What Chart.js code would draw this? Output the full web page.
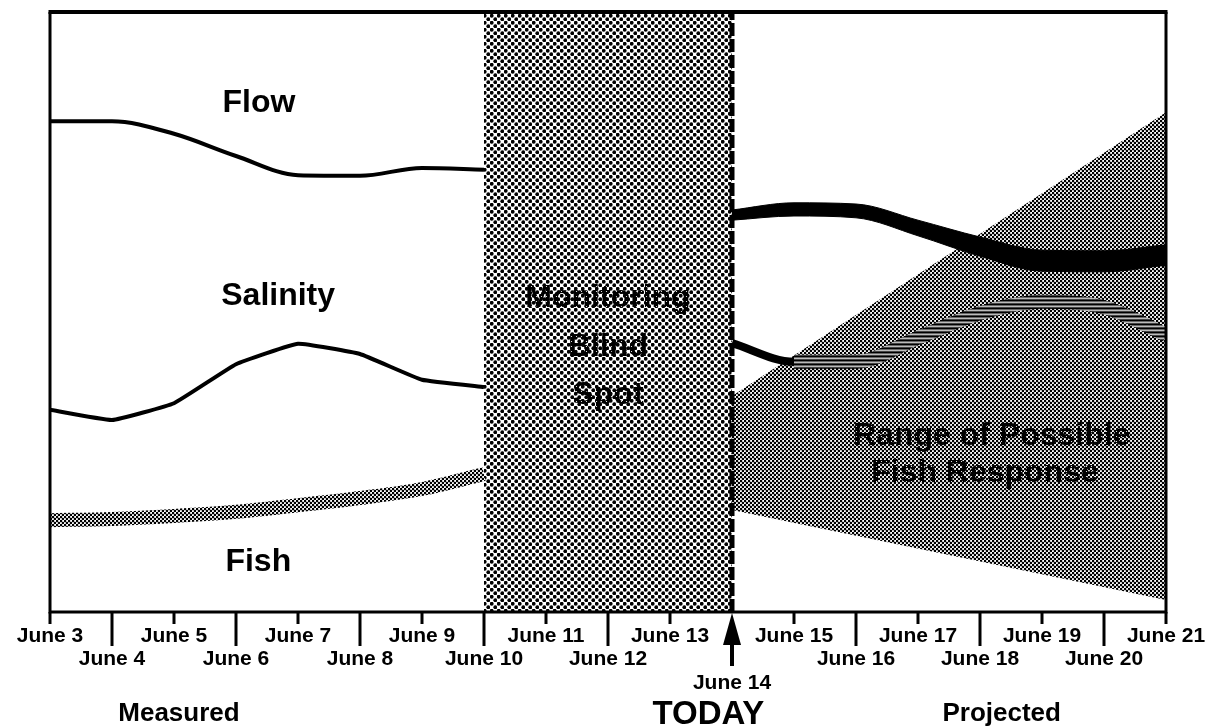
<!DOCTYPE html>
<html>
<head>
<meta charset="utf-8">
<title>Monitoring blind spot</title>
<script src="https://cdn.jsdelivr.net/npm/chart.js@4/dist/chart.umd.min.js"></script>
<style>
  html, body { margin: 0; padding: 0; background: #fff; }
  #wrap { width: 1211px; height: 726px; }
</style>
</head>
<body>
<div id="wrap"><canvas id="chart" width="1211" height="726"></canvas></div>
<script>
// x positions are day indexes: 0 = June 3 ... 18 = June 21
const dates = ['June 3', 'June 4', 'June 5', 'June 6', 'June 7', 'June 8', 'June 9', 'June 10',
  'June 11', 'June 12', 'June 13', 'June 14', 'June 15', 'June 16', 'June 17', 'June 18',
  'June 19', 'June 20', 'June 21'];
const todayIndex = 11;

// measured, June 3 .. June 10 (relative units 0-100)
const flowMeasured = [81.8, 81.8, 79.7, 76.0, 72.8, 72.7, 74.0, 73.7];
const salinityMeasured = [33.7, 32.0, 34.8, 41.3, 44.7, 43.0, 38.7, 37.5];
const fishMeasured = [15.3, 15.5, 16.0, 16.7, 17.8, 19.0, 20.5, 23.0];

// blind spot, June 10 .. June 14
const blindSpotDays = [7, 11];

// projected, June 14 .. June 21
const flowProjHigh = [67.0, 68.2, 68.0, 65.3, 62.5, 60.3, 60.2, 61.2];
const flowProjLow = [65.3, 66.0, 65.7, 62.7, 59.3, 56.8, 56.7, 57.8];
const salinityProj = [44.8, 41.7, 41.7, 45.7, 49.8, 51.7, 50.8, 46.2];

// range of possible fish response, June 14 and June 21
const rangeDays = [11, 18];
const rangeHigh = [36.0, 83.3];
const rangeLow = [17.0, 2.0];

const FONT = '"Liberation Sans", Arial, Helvetica, sans-serif';

function toPoints(values, startDay) {
  return values.map((v, i) => ({ x: startDay + i, y: v }));
}

function dotPattern(size, dots, r, bg, fg) {
  const c = document.createElement('canvas');
  c.width = size;
  c.height = size;
  const g = c.getContext('2d');
  g.fillStyle = bg;
  g.fillRect(0, 0, size, size);
  g.fillStyle = fg;
  dots.forEach(([x, y]) => {
    g.beginPath();
    g.arc(x, y, r, 0, Math.PI * 2);
    g.fill();
  });
  return g.createPattern(c, 'repeat');
}

function stripePattern(rows) {
  const c = document.createElement('canvas');
  c.width = 4;
  c.height = rows.length;
  const g = c.getContext('2d');
  rows.forEach((col, i) => {
    g.fillStyle = col;
    g.fillRect(0, i, 4, 1);
  });
  return g.createPattern(c, 'repeat');
}

const coarseDots = dotPattern(7, [[1.75, 1.75], [5.25, 5.25]], 1.9, '#fff', '#000');
const fineDots = dotPattern(4, [[1, 1], [3, 3]], 1.3, '#fff', '#000');
const textDots = dotPattern(5, [[1.5, 1.5]], 0.6, '#000', '#fff');
const bandStripes = stripePattern(['#000', '#666', '#bbb', '#444']);

// text with its cap centred on y
function capText(ctx, text, x, y, size, fill) {
  ctx.font = 'bold ' + size + 'px ' + FONT;
  ctx.fillStyle = fill;
  ctx.textAlign = 'center';
  ctx.textBaseline = 'alphabetic';
  ctx.fillText(text, x, y + size * 0.358);
}

const annotations = {
  id: 'annotations',
  afterDatasetsDraw(chart) {
    const { ctx, chartArea: a, scales: { x, y } } = chart;
    ctx.save();
    // frame
    ctx.strokeStyle = '#000';
    ctx.lineWidth = 4;
    ctx.beginPath();
    ctx.moveTo(a.left - 1.5, a.top);
    ctx.lineTo(a.right + 1.5, a.top);
    ctx.stroke();
    ctx.lineWidth = 3;
    ctx.beginPath();
    ctx.moveTo(a.left, a.top);
    ctx.lineTo(a.left, a.bottom);
    ctx.moveTo(a.right, a.top);
    ctx.lineTo(a.right, a.bottom);
    ctx.moveTo(a.left - 1.5, a.bottom);
    ctx.lineTo(a.right + 1.5, a.bottom);
    ctx.stroke();

    // series names
    capText(ctx, 'Flow', x.getPixelForValue(3.37), y.getPixelForValue(85.2), 32, '#000');
    capText(ctx, 'Salinity', x.getPixelForValue(3.68), y.getPixelForValue(53.0), 32, '#000');
    capText(ctx, 'Fish', x.getPixelForValue(3.36), y.getPixelForValue(8.7), 32, '#000');
    const mid = x.getPixelForValue((blindSpotDays[0] + blindSpotDays[1]) / 2);
    capText(ctx, 'Monitoring', mid, y.getPixelForValue(52.7), 32, textDots);
    capText(ctx, 'Blind', mid, y.getPixelForValue(44.5), 32, textDots);
    capText(ctx, 'Spot', mid, y.getPixelForValue(36.5), 32, textDots);
    capText(ctx, 'Range of Possible', x.getPixelForValue(15.19), y.getPixelForValue(29.7), 32, textDots);
    capText(ctx, 'Fish Response', x.getPixelForValue(15.08), y.getPixelForValue(23.5), 32, textDots);
    ctx.restore();
  },
  afterDraw(chart) {
    const { ctx, chartArea: a, scales: { x } } = chart;
    ctx.save();
    ctx.strokeStyle = '#000';
    ctx.fillStyle = '#000';
    ctx.lineWidth = 3;
    // tick marks: short under the first label row, long ones reach the second row
    dates.forEach((d, i) => {
      if (i === todayIndex) return;
      const px = x.getPixelForValue(i);
      ctx.beginPath();
      ctx.moveTo(px, a.bottom);
      ctx.lineTo(px, a.bottom + (i % 2 === 0 ? 12 : 34));
      ctx.stroke();
    });
    // TODAY arrow
    const tx = x.getPixelForValue(todayIndex);
    ctx.beginPath();
    ctx.moveTo(tx, a.bottom + 1);
    ctx.lineTo(tx + 9, a.bottom + 33);
    ctx.lineTo(tx - 9, a.bottom + 33);
    ctx.closePath();
    ctx.fill();
    ctx.fillRect(tx - 2, a.bottom + 30, 4, 24);

    capText(ctx, 'Measured', x.getPixelForValue(2.08), a.bottom + 100, 26, '#000');
    capText(ctx, 'TODAY', x.getPixelForValue(10.62), a.bottom + 100, 33, '#000');
    capText(ctx, 'Projected', x.getPixelForValue(15.35), a.bottom + 100, 26, '#000');
    ctx.restore();
  }
};

new Chart(document.getElementById('chart'), {
  type: 'line',
  data: {
    datasets: [
      {
        label: 'Monitoring Blind Spot',
        data: blindSpotDays.map(d => ({ x: d, y: 100 })),
        borderWidth: 0,
        backgroundColor: coarseDots,
        fill: 'start',
        order: 10
      },
      {
        label: 'Range high',
        data: rangeDays.map((d, i) => ({ x: d, y: rangeHigh[i] })),
        borderWidth: 0,
        backgroundColor: fineDots,
        fill: '+1',
        order: 9
      },
      {
        label: 'Range low',
        data: rangeDays.map((d, i) => ({ x: d, y: rangeLow[i] })),
        borderWidth: 0,
        fill: false,
        order: 9
      },
      {
        label: 'Flow projected high',
        data: toPoints(flowProjHigh, todayIndex),
        borderColor: '#000',
        borderWidth: 1,
        backgroundColor: '#000',
        cubicInterpolationMode: 'monotone',
        fill: '+1',
        order: 3
      },
      {
        label: 'Flow projected low',
        data: toPoints(flowProjLow, todayIndex),
        borderColor: '#000',
        borderWidth: 1,
        cubicInterpolationMode: 'monotone',
        fill: false,
        order: 3
      },
      {
        label: 'Salinity projected',
        data: toPoints(salinityProj, todayIndex),
        borderColor: bandStripes,
        borderWidth: 14,
        cubicInterpolationMode: 'monotone',
        segment: {
          borderColor: c => (c.p0DataIndex === 0 ? '#000' : bandStripes),
          borderWidth: c => (c.p0DataIndex === 0 ? 8 : 14)
        },
        fill: false,
        order: 2
      },
      {
        label: 'Flow',
        data: toPoints(flowMeasured, 0),
        borderColor: '#000',
        borderWidth: 4,
        cubicInterpolationMode: 'monotone',
        fill: false,
        order: 1
      },
      {
        label: 'Salinity',
        data: toPoints(salinityMeasured, 0),
        borderColor: '#000',
        borderWidth: 4,
        tension: 0.1,
        fill: false,
        order: 1
      },
      {
        label: 'Fish',
        data: toPoints(fishMeasured, 0),
        borderColor: fineDots,
        borderWidth: 14,
        cubicInterpolationMode: 'monotone',
        fill: false,
        order: 1
      },
      {
        label: 'Today',
        data: [{ x: todayIndex, y: 0 }, { x: todayIndex, y: 100 }],
        borderColor: '#000',
        borderWidth: 5,
        borderDash: [13, 3],
        fill: false,
        order: 0
      }
    ]
  },
  options: {
    responsive: false,
    animation: false,
    events: [],
    layout: { padding: { left: 50, right: 45, top: 12, bottom: 19.44 } },
    elements: { point: { radius: 0 } },
    plugins: {
      legend: { display: false },
      tooltip: { enabled: false }
    },
    scales: {
      x: {
        type: 'linear',
        min: 0,
        max: dates.length - 1,
        grid: { display: false, drawTicks: false },
        border: { display: false },
        afterFit: scale => {
          // the frame position is fixed by layout.padding, not by the label widths
          scale.paddingLeft = 0;
          scale.paddingRight = 0;
        },
        ticks: {
          stepSize: 1,
          autoSkip: false,
          maxRotation: 0,
          minRotation: 0,
          padding: 12,
          color: '#000',
          font: { family: FONT, weight: 'bold', size: 21, lineHeight: 1.12 },
          callback: value => {
            const i = Math.round(value);
            const text = dates[i];
            if (i === todayIndex) return ['', '', text];
            return i % 2 === 0 ? text : ['', text];
          }
        }
      },
      y: {
        display: false,
        min: 0,
        max: 100
      }
    }
  },
  plugins: [annotations]
});
</script>
</body>
</html>
